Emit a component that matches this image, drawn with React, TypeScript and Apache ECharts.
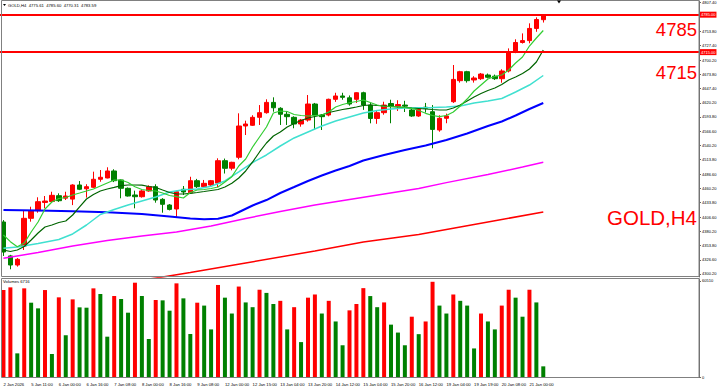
import React, { useEffect, useRef } from "react";
import * as echarts from "echarts";

// ---------- DATA ----------
const opens = [4397.4, 4334, 4317, 4352.5, 4404.3, 4418.5, 4434, 4435.7, 4446.6, 4442, 4440.2, 4466.6, 4459.5, 4462.3, 4477.3, 4479.7, 4492.8, 4476, 4460.4, 4447.9, 4444.7, 4455.4, 4463.4, 4439.8, 4429.2, 4421.7, 4458.6, 4452, 4474.6, 4463.4, 4466.6, 4470.1, 4512, 4498, 4518.4, 4576.9, 4578.2, 4593.1, 4601.8, 4621, 4610, 4598.8, 4593.1, 4580.6, 4588, 4618, 4597.4, 4597.4, 4626.8, 4633, 4629.6, 4626.8, 4639.1, 4616, 4591, 4601.8, 4619, 4614, 4616, 4606.8, 4595.6, 4612, 4603.6, 4569.4, 4591.3, 4622.3, 4661.6, 4678.4, 4662.9, 4665.3, 4672.2, 4670, 4665.3, 4679.7, 4715.8, 4733, 4736.5, 4759.3, 4775.61];
const closes = [4341.3, 4317, 4327.7, 4404.3, 4418.5, 4435.4, 4436.6, 4447.3, 4437.2, 4446, 4466.6, 4458.6, 4463.4, 4477.3, 4481, 4492.8, 4474.6, 4460.4, 4446, 4444.7, 4455.4, 4463.4, 4438.5, 4430.5, 4421, 4454, 4453.5, 4474.6, 4463.4, 4469.7, 4474.6, 4512, 4497.8, 4509, 4576.9, 4580.6, 4593.1, 4601.8, 4621, 4611, 4598.8, 4594.3, 4580.6, 4588, 4618, 4597.4, 4594.3, 4626.8, 4633, 4630.5, 4618, 4639.1, 4616.1, 4591, 4601.8, 4616, 4614, 4617, 4614, 4595.6, 4608, 4610, 4570.5, 4591.3, 4595.6, 4664, 4678.4, 4661.6, 4666.6, 4674, 4668, 4665.3, 4679.7, 4715.8, 4733, 4736.5, 4759.3, 4776, 4783.59];
const lows = [4333.9, 4309, 4314, 4345.1, 4398, 4414.8, 4423, 4435, 4435, 4438.5, 4429, 4457, 4443, 4461, 4472.7, 4479, 4472, 4441.7, 4445, 4423, 4443, 4454, 4433.5, 4414.8, 4419, 4406, 4447.9, 4450, 4461, 4461, 4465, 4462.3, 4488, 4494, 4514.6, 4560, 4577, 4578.8, 4600, 4603.6, 4578.8, 4578.8, 4572.6, 4575.6, 4585, 4569.4, 4569.4, 4595, 4622, 4626, 4615, 4620, 4607, 4581.9, 4581, 4598, 4582, 4605, 4603, 4594, 4594, 4602, 4535.2, 4566.2, 4582, 4620, 4658, 4658, 4658, 4663, 4666, 4663, 4657.8, 4677, 4713, 4731, 4731.5, 4753, 4770.31];
const highs = [4401, 4336, 4330, 4419.8, 4426, 4443.6, 4446, 4454, 4451, 4454, 4468, 4474, 4468, 4491.5, 4494.6, 4499.7, 4496, 4477, 4462, 4456, 4457, 4466, 4467.9, 4442, 4431, 4456, 4464.7, 4482, 4478, 4476, 4476, 4516.5, 4516, 4510, 4600.6, 4586.8, 4597, 4616, 4626.8, 4630.5, 4612, 4605, 4595, 4590, 4634.8, 4620, 4599, 4628, 4639, 4639, 4634, 4640, 4641, 4620, 4606, 4622.3, 4626, 4625, 4624, 4611, 4611, 4620, 4616, 4597, 4600, 4690.9, 4680, 4680, 4670, 4676, 4675, 4673, 4683, 4722, 4739, 4750, 4768.8, 4780, 4785.6];
const volumes = [54800, 56500, 14900, 55870, 46830, 43260, 54800, 14500, 50200, 26250, 48930, 43890, 43680, 55860, 52290, 25410, 51030, 49140, 40530, 59430, 51030, 23940, 48510, 48300, 41790, 59010, 49560, 27090, 46830, 45000, 30000, 58000, 50000, 40000, 57000, 47000, 44000, 55000, 53000, 46000, 48000, 30000, 44000, 22000, 50000, 52000, 40000, 48000, 35000, 20000, 42000, 46000, 56000, 51000, 44000, 47000, 33000, 28000, 20000, 38000, 27000, 35000, 60000, 45000, 40000, 52000, 48000, 45000, 18000, 40000, 35000, 30000, 45000, 55000, 50000, 38000, 55000, 47000, 6716];

// x tick labels, one every 4 bars
const timeLabels = ["2 Jan 2026", "5 Jan 11:00", "6 Jan 00:00", "6 Jan 16:00", "7 Jan 08:00", "8 Jan 00:00", "8 Jan 16:00", "9 Jan 08:00", "12 Jan 00:00", "12 Jan 15:00", "13 Jan 04:00", "13 Jan 20:00", "14 Jan 12:00", "15 Jan 04:00", "15 Jan 20:00", "16 Jan 12:00", "19 Jan 04:00", "19 Jan 19:00", "20 Jan 08:00", "21 Jan 00:00"];
const priceTicks = [4300.2, 4326.6, 4353.8, 4380.2, 4406.6, 4433.8, 4460.2, 4486.6, 4513.8, 4540.2, 4566.6, 4593.8, 4620.2, 4647.4, 4673.8, 4700.2, 4727.4, 4753.8, 4807.4];
const volumeTicks = [0, 60510];
const levels = [4785, 4715];
const header = "GOLD,H4  4775.61  4785.60  4770.31  4783.59";
const volumeTitle = "Volumes 6716";
const symbolTitle = "GOLD,H4";

// moving averages: [bar index, value]
const maFast: [number, number][] = [[0, 4373], [1, 4360.6], [2, 4351.2], [3, 4358], [4, 4378.7], [5, 4397.4], [6, 4421.7], [7, 4434.8], [8, 4441.3], [9, 4443.2], [10, 4447.9], [11, 4451.6], [12, 4455.4], [13, 4459.1], [14, 4464.7], [15, 4470.3], [16, 4475.9], [17, 4475.9], [18, 4471.3], [19, 4463.4], [20, 4458.2], [21, 4456.3], [22, 4455.4], [23, 4451.6], [24, 4446.9], [25, 4444.7], [26, 4442.3], [27, 4452.6], [28, 4457.2], [29, 4458.2], [30, 4460], [31, 4462.8], [32, 4472.2], [33, 4482.1], [34, 4502.1], [35, 4515.2], [36, 4537.6], [37, 4556.3], [38, 4575], [39, 4601.2], [40, 4604.9], [41, 4604], [42, 4598.4], [43, 4596.5], [44, 4595.6], [45, 4596.5], [46, 4597.4], [47, 4603], [48, 4612.4], [49, 4617.1], [50, 4620.4], [51, 4622.7], [52, 4625.5], [53, 4620.8], [54, 4616.1], [55, 4613.3], [56, 4612.9], [57, 4612.7], [58, 4611.5], [59, 4610], [60, 4605.9], [61, 4600.6], [62, 4596.5], [63, 4594.3], [64, 4596.5], [65, 4603], [66, 4614.2], [67, 4627.3], [68, 4642.3], [69, 4653.5], [70, 4664.7], [71, 4669.4], [72, 4672.2], [73, 4681.6], [74, 4694.7], [75, 4705.9], [76, 4726.4], [77, 4741.4], [78, 4755.4]];
const maMid: [number, number][] = [[0, 4345.1], [1, 4342.3], [2, 4345.1], [3, 4351.6], [4, 4363.8], [5, 4376.9], [6, 4388.1], [7, 4391.8], [8, 4396.5], [9, 4399.3], [10, 4410.5], [11, 4425.5], [12, 4440.4], [13, 4448.8], [14, 4455.4], [15, 4459.1], [16, 4462], [17, 4465.3], [18, 4466.6], [19, 4466.6], [20, 4466.3], [21, 4463.8], [22, 4462], [23, 4457.2], [24, 4452.6], [25, 4450.1], [26, 4449.8], [27, 4451.1], [28, 4452.6], [29, 4454.4], [30, 4456.3], [31, 4458.2], [32, 4462.8], [33, 4469.8], [34, 4479.7], [35, 4492.8], [36, 4509.6], [37, 4528.3], [38, 4545.1], [39, 4558.2], [40, 4565.7], [41, 4575], [42, 4581.6], [43, 4587.2], [44, 4591.8], [45, 4594.6], [46, 4597.4], [47, 4602.1], [48, 4604.9], [49, 4607.7], [50, 4610], [51, 4612.4], [52, 4615.2], [53, 4616.1], [54, 4615.2], [55, 4614.3], [56, 4613.3], [57, 4612.4], [58, 4611.5], [59, 4610.5], [60, 4609.6], [61, 4608.7], [62, 4607.7], [63, 4606.8], [64, 4606.8], [65, 4610.5], [66, 4616.1], [67, 4623.6], [68, 4631.1], [69, 4637.6], [70, 4643.3], [71, 4647.9], [72, 4654.5], [73, 4662.9], [74, 4668.5], [75, 4675], [76, 4683.5], [77, 4696.5], [78, 4719]];
const maCyan: [number, number][] = [[0, 4348.2], [2, 4350.7], [5, 4357.2], [8, 4364.7], [10, 4375], [12, 4391.8], [14, 4411.4], [16, 4420.8], [18, 4429.2], [20, 4436.7], [22, 4444.2], [24, 4453.5], [26, 4457.8], [28, 4459.1], [30, 4464.2], [32, 4474.1], [34, 4490.9], [36, 4508.6], [38, 4522.7], [40, 4539.5], [42, 4554.5], [44, 4565.7], [46, 4576.9], [48, 4586.2], [50, 4593.7], [52, 4601.2], [54, 4605.9], [56, 4608.7], [58, 4610.5], [60, 4611.1], [62, 4611.5], [64, 4612.4], [66, 4614.3], [68, 4619.9], [70, 4623.6], [72, 4628.3], [74, 4640.4], [76, 4653.5], [78, 4671.3]];
const maBlue: [number, number][] = [[0, 4419.8], [5, 4418.9], [10, 4417.6], [15, 4415.6], [20, 4412.4], [24, 4407.7], [27, 4404], [29, 4402.5], [31, 4403.6], [33, 4409.6], [36, 4428.3], [38, 4438.5], [40, 4451.6], [42, 4462.8], [44, 4474.1], [46, 4484.3], [48, 4493.7], [50, 4502.1], [52, 4512.4], [55, 4522.7], [58, 4532], [61, 4540.4], [64, 4550.7], [67, 4562.9], [70, 4576.9], [72, 4585.3], [74, 4596.5], [76, 4608.7], [78, 4619.9]];
const maMagenta: [number, number][] = [[0, 4329.6], [5, 4340.4], [10, 4352.5], [15, 4362.8], [20, 4371.2], [25, 4378.7], [30, 4389.9], [35, 4403.9], [40, 4417], [45, 4429.2], [50, 4439.5], [55, 4449.8], [60, 4460], [64, 4471], [70, 4486.2], [75, 4500.2], [78, 4509]];
const maRed: [number, number][] = [[18, 4285], [23, 4294.6], [27, 4303], [35, 4320.8], [45, 4343.2], [52, 4360], [60, 4374], [66, 4388.1], [72, 4402.1], [78, 4416.1]];

const SLOTS = 101;

export default function App() {
  const ref = useRef<HTMLDivElement>(null);
  useEffect(() => {
    if (!ref.current) return;
    const chart = echarts.init(ref.current, null, { renderer: "svg" });
    const cats = Array.from({ length: SLOTS }, (_, i) => String(i));
    const candles = opens.map((o, i) => [o, closes[i], lows[i], highs[i]]);
    const RED = "#ff0000";
    const GREEN = "#008000";
    const font = "Liberation Sans, Arial, sans-serif";
    const maSeries = (data: [number, number][], color: string, width: number, z: number) => ({
      type: "line",
      xAxisIndex: 0,
      yAxisIndex: 0,
      data,
      showSymbol: false,
      symbol: "none",
      smooth: false,
      lineStyle: { color, width },
      z,
      silent: true,
    });
    const option: any = {
      animation: false,
      backgroundColor: "#ffffff",
      grid: [
        { left: -2, top: 1, width: 701, height: 276 },
        { left: -2, top: 279, width: 701, height: 98 },
      ],
      xAxis: [
        {
          type: "category",
          gridIndex: 0,
          data: cats,
          boundaryGap: true,
          axisLine: { show: false },
          axisTick: { show: false },
          axisLabel: { show: false },
          splitLine: { show: false },
        },
        {
          type: "category",
          gridIndex: 1,
          data: cats,
          boundaryGap: true,
          axisLine: { show: false },
          axisTick: { show: false },
          axisLabel: {
            show: true,
            interval: 3,
            align: "left",
            fontSize: 4.2,
            fontFamily: font,
            color: "#000",
            margin: 5,
            formatter: (_v: string, idx: number) => (idx % 4 === 0 && timeLabels[idx / 4]) || "",
          },
          splitLine: { show: false },
        },
      ],
      yAxis: [
        {
          type: "value",
          gridIndex: 0,
          position: "right",
          min: 4294.59,
          max: 4810.57,
          axisLine: { show: true, lineStyle: { color: "#666", width: 1 } },
          axisTick: { show: true, customValues: priceTicks, length: 2, lineStyle: { color: "#666" } },
          axisLabel: {
            show: true,
            customValues: priceTicks,
            fontSize: 4,
            fontFamily: font,
            color: "#000",
            margin: 3,
            formatter: (v: number) => v.toFixed(2),
          },
          splitLine: { show: false },
        },
        {
          type: "value",
          gridIndex: 1,
          position: "right",
          min: 0,
          max: 61760,
          axisLine: { show: true, lineStyle: { color: "#666", width: 1 } },
          axisTick: { show: true, customValues: volumeTicks, length: 2, lineStyle: { color: "#666" } },
          axisLabel: {
            show: true,
            customValues: volumeTicks,
            fontSize: 4,
            fontFamily: font,
            color: "#000",
            margin: 3,
            formatter: (v: number) => String(v),
          },
          splitLine: { show: false },
        },
      ],
      series: [
        {
          type: "candlestick",
          xAxisIndex: 0,
          yAxisIndex: 0,
          data: candles,
          barWidth: 5,
          itemStyle: {
            color: RED,
            color0: GREEN,
            borderColor: RED,
            borderColor0: GREEN,
            borderWidth: 1,
          },
          z: 2,
          markLine: {
            symbol: "none",
            silent: true,
            lineStyle: { color: RED, width: 2, type: "solid" },
            label: {
              position: "end",
              distance: 1,
              formatter: (p: any) => Number(p.value).toFixed(2),
              backgroundColor: RED,
              color: "#fff",
              fontSize: 4,
              fontFamily: font,
              padding: [1, 1, 1, 1],
            },
            data: levels.map((v) => ({ yAxis: v })),
            z: 5,
          },
        },
        maSeries(maRed, "#ff0000", 1.5, 3),
        maSeries(maMagenta, "#ff00ff", 1.5, 3),
        maSeries(maBlue, "#0000ff", 2, 3),
        maSeries(maCyan, "#40e0d0", 1.5, 4),
        maSeries(maMid, "#006400", 1.2, 4),
        maSeries(maFast, "#32cd32", 1.2, 4),
        {
          type: "bar",
          xAxisIndex: 1,
          yAxisIndex: 1,
          data: volumes,
          barWidth: 4,
          itemStyle: {
            color: (p: any) => {
              const i = p.dataIndex;
              return i === 0 || volumes[i] > volumes[i - 1] ? RED : GREEN;
            },
          },
        },
      ],
      graphic: [
        { type: "rect", shape: { x: 1.5, y: 0.5, width: 697.5, height: 276 }, style: { fill: "none", stroke: "#808080", lineWidth: 1 }, silent: true, z: 10 },
        { type: "rect", shape: { x: 1.5, y: 278.5, width: 697.5, height: 99 }, style: { fill: "none", stroke: "#808080", lineWidth: 1 }, silent: true, z: 10 },
        { type: "polygon", shape: { points: [[3, 4], [6, 4], [4.5, 6]] }, style: { fill: "#000" }, silent: true, z: 10 },
        { type: "polygon", shape: { points: [[557, 0.5], [561, 0.5], [559, 3.5]] }, style: { fill: "#000" }, silent: true, z: 10 },
        { type: "text", x: 8, y: 5, style: { text: header, fontSize: 4.2, fontFamily: font, fill: "#000", textVerticalAlign: "middle" }, silent: true, z: 10 },
        { type: "text", x: 3, y: 281, style: { text: volumeTitle, fontSize: 4.2, fontFamily: font, fill: "#000", textVerticalAlign: "middle" }, silent: true, z: 10 },
        { type: "text", x: 697, y: 29.5, style: { text: String(levels[0]), fontSize: 18.5, fontFamily: font, fill: RED, textAlign: "right", textVerticalAlign: "middle" }, silent: true, z: 10 },
        { type: "text", x: 697, y: 72, style: { text: String(levels[1]), fontSize: 18.5, fontFamily: font, fill: RED, textAlign: "right", textVerticalAlign: "middle" }, silent: true, z: 10 },
        { type: "text", x: 697, y: 217, style: { text: symbolTitle, fontSize: 20.5, fontFamily: font, fill: RED, textAlign: "right", textVerticalAlign: "middle" }, silent: true, z: 10 },
      ],
    };
    chart.setOption(option);
    return () => chart.dispose();
  }, []);
  return (
    <div
      ref={ref}
      style={{ position: "fixed", left: 0, top: 0, width: 720, height: 389, background: "#fff" }}
    />
  );
}
